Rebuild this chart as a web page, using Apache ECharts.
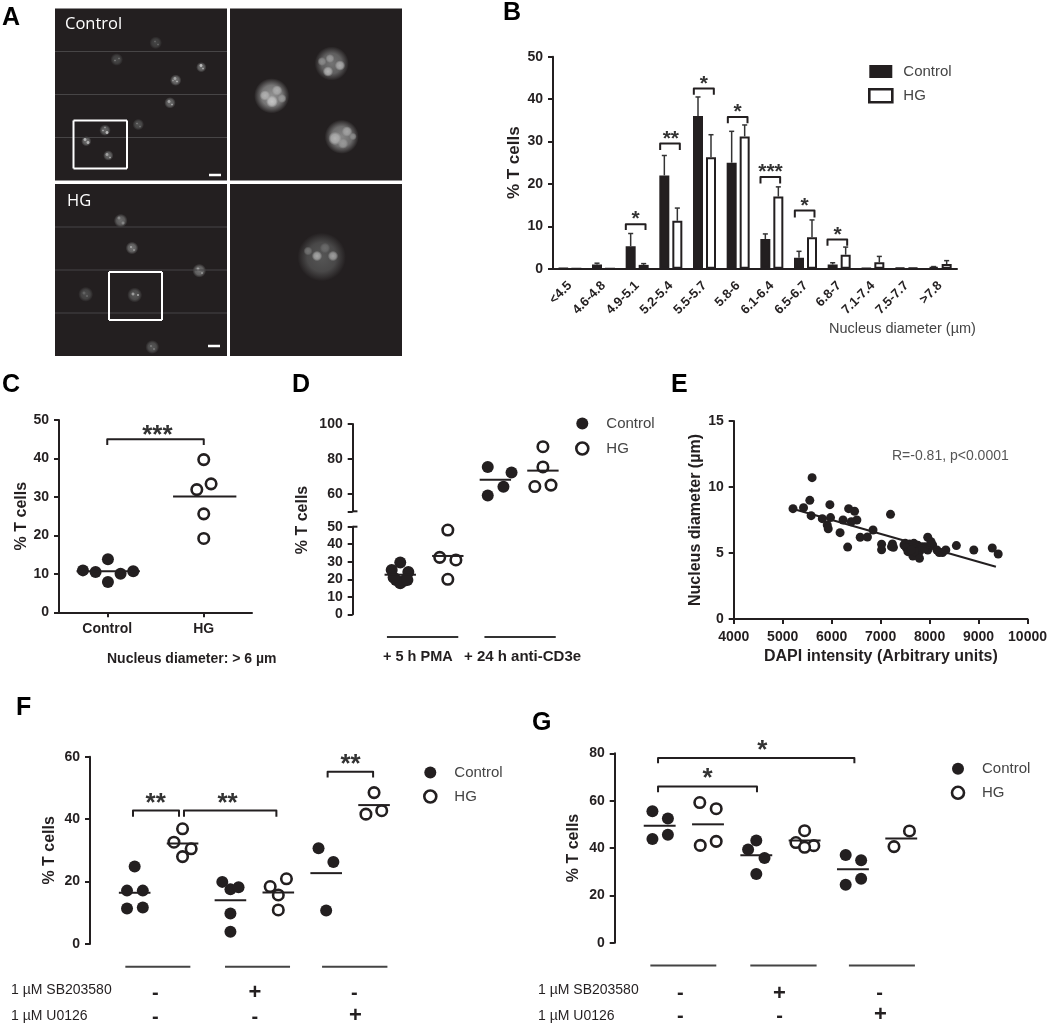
<!DOCTYPE html>
<html><head><meta charset="utf-8">
<style>html,body{margin:0;padding:0;background:#fff}#c{width:1050px;height:1024px}</style>
<script src="https://cdn.jsdelivr.net/npm/echarts@6/dist/echarts.min.js"></script>
</head><body><div id="c"></div>
<script>
const INK='#231f20', FONT='"Liberation Sans", Arial, sans-serif';
// Panel A: [x, y, diameter, brightness]
const aCtrlWide=[[100.7,34.3,11,.18],[61.7,51,11,.2],[146.3,58.7,9,.4],[120.7,71.7,10,.42],[115,94.3,10,.38],[83.3,116,10,.24],[50,121.7,10,.35],[31.3,132.7,9,.4],[53.3,147,9,.38]];
const aCtrlWideSpots=[[100,33,2,.35],[103,36,2,.35],[60,52,2,.45],[64,50,2,.4],[146,57,3,.85],[148,60,2,.7],[120,70,3,.7],[122,73,2,.75],[118,72,2,.6],[114,93,3,.7],[117,96,2,.7],[82,115,2,.45],[85,118,2,.4],[48,122,2,.7],[52,124,3,.85],[50,119,2,.6],[30,131,3,.8],[33,134,3,.8],[52,146,3,.7],[55,149,2,.7]];
const aCtrlZoom=[[101.7,55,31,.42],[41.7,87.3,32,.58],[111.7,128.3,31,.52]];
const aCtrlZoomSpots=[[98,63,7,.75],[110,57,7,.72],[100,50,6,.62],[92,53,6,.55],[42,93,8,.85],[35,87,7,.75],[47,82,7,.72],[52,90,6,.62],[105,130,9,.75],[117,123,7,.68],[113,135,7,.62],[123,128,5,.55]];
const aHgWide=[[65.7,36.7,12,.38],[77,64,11,.42],[144.3,86.7,12,.42],[30.7,110.3,13,.22],[79.7,111,13,.28],[97.3,163,12,.28]];
const aHgWideSpots=[[64,34,3,.55],[68,39,3,.55],[76,63,2,.7],[79,66,2,.6],[143,85,3,.7],[147,89,2,.6],[29,109,3,.35],[32,112,2,.35],[78,110,3,.7],[83,111,2,.7],[96,162,2,.45],[99,165,2,.45]];
const aHgZoom=[[91.7,73,44,.27]];
const aHgZoomSpots=[[87,72,7,.7],[103,72,7,.65],[78,67,6,.42],[95,64,7,.38]];
const aScanLines=[43,86,129], aBoxCtrl=[18.5,112,72,160], aBoxHg=[54,88,107,136];
const aScaleBarCtrl=[154,166.5,166,166.5], aScaleBarHg=[153,162,165,162];

// Panel B
const bCategories=['<4.5','4.6-4.8','4.9-5.1','5.2-5.4','5.5-5.7','5.8-6','6.1-6.4','6.5-6.7','6.8-7','7.1-7.4','7.5-7.7','>7.8'];
const bControl=[0.1,1,5.3,22,36,25,7,2.6,1,0.1,0.2,0.4];
const bHG=[0,0,0.9,11.3,26.3,31.2,17,7.4,3.3,1.5,0.2,1.1];
const bControlErr=[0.1,1.3,8.3,26.7,40.5,32.4,8.2,4.1,1.4,0.1,0.2,0.5];
const bHGErr=[0,0,1.2,14.3,31.6,33.9,19.3,11.5,5.1,2.9,0.2,1.9];
const bBrackets=[[1.663,2.248,10.5,9.1],[2.683,3.267,29.5,28],[3.683,4.277,42.5,41],[4.693,5.277,35.8,34.3],[5.663,6.247,21.6,20.1],[6.683,7.267,13.7,12.1],[7.653,8.238,6.9,5.4]];
const bStars=[[1.95,12.3,1],[3,31.3,2],[3.98,44.3,1],[4.98,37.6,1],[5.96,23.6,3],[6.97,15.4,1],[7.95,8.7,1]];

// Panel C
const cLabels=['Control','HG'];
const cControl=[[0.748,10.9],[0.879,10.5],[1.138,10],[1.269,10.7],[1.007,13.8],[1.007,7.9]];
const cHG=[[2,39.7],[2.076,33.4],[1.928,31.9],[2,25.6],[2,19.2]];
const cMeans=[[1.01,10.7],[2.01,30.1]];
const cBrackets=[[1,2,45,43.5]];
const cStars=[[1.52,47,3]];

// Panel D
const dControlLow=[[1,29.5],[0.82,25.3],[1.17,24.1],[0.91,19.6],[1.08,19.2],[1,17.7],[0.86,21],[1.15,19.6]];
const dHGLow=[[2,48.1],[1.83,32.5],[2.17,31],[2,20]];
const dControlHigh=[[2.84,75.4],[3.34,72.2],[3.17,64],[2.84,59]];
const dHGHigh=[[4,87],[4,75.4],[3.83,64.2],[4.17,65]];
const dMeansLow=[[1,22.6],[2,33.3]];
const dMeansHigh=[[3,68],[4,73.3]];
const dGroupLines=[[0.72,-12.9,2.22,-12.9],[2.77,-12.9,4.27,-12.9]];
const dBreakTick=[[0,50,0.1,50]];

// Panel E
const eIntensity=[5211,5426,5554,5601,5581,5809,5910,5977,5930,5964,6172,6233,6347,6468,6515,6401,6327,6583,6731,6845,7020,7020,7202,7242,7262,7477,7504,7592,7639,7524,7706,7760,7679,7793,7659,7793,7861,7962,8062,7962,8029,7928,8150,8197,8264,8331,8547,8903,9280,9401,7222,7558,7692,7894,7625];
const eDiameter=[8.36,8.43,8.99,10.71,7.83,7.6,7.12,7.68,6.84,8.66,6.54,7.5,8.36,8.16,7.5,7.37,5.45,6.19,6.21,6.74,5.66,5.25,7.93,5.68,5.43,5.61,5.73,5.68,5.53,5.4,5.48,5.58,5.73,5.1,4.77,4.6,5.48,5.23,5.61,6.19,5.86,5.48,5.23,5.03,5.03,5.23,5.56,5.23,5.38,4.92,5.48,5.1,5.1,5.35,5.23];
const eFit=[[5291,8.26,9354,3.96]];

// Panel F
const fControl=[[1,24.8],[0.84,17.1],[1.17,17.1],[0.84,11.4],[1.17,11.7],[2.83,19.9],[3,17.5],[3.17,18.2],[3,9.8],[3,3.9],[4.84,30.7],[5.15,26.3],[5,10.7]];
const fHG=[[2,36.9],[1.82,32.6],[2.18,30.5],[2,28],[4.17,20.9],[3.83,18.4],[4,15.7],[4,10.9],[6,48.5],[6.16,42.7],[5.83,41.6]];
const fMeans=[[1,16.4],[2,32.2],[3,14],[4,16.5],[5,22.7],[6,44.5]];
const fBrackets=[[0.965,1.926,42.8,40.8],[2.03,3.96,42.8,40.8],[5.03,5.98,55.2,53.3]];
const fStars=[[1.44,46.3,2],[2.94,46.3,2],[5.51,58.6,2]];
const fGroupLines=[[0.805,-7.26,2.163,-7.26],[2.887,-7.26,4.245,-7.26],[4.914,-7.26,6.279,-7.26]];
const fSigns=[[1.43,-15.8,0],[3.51,-15.8,1],[5.59,-15.8,0],[1.43,-23.5,0],[3.51,-23.5,0],[5.61,-23.2,1]];

// Panel G
const gControl=[[0.85,55.5],[1.17,52.5],[1.17,45.6],[0.85,43.8],[3,43.2],[2.83,39.4],[3.17,35.8],[3,29],[4.85,37],[5.17,34.8],[5.17,27],[4.85,24.5]];
const gHG=[[1.83,59.2],[2.17,56.6],[2.17,42.8],[1.84,41.1],[4,47.3],[3.82,42.3],[4.19,41],[4,40.3],[6.17,47.2],[5.85,40.6]];
const gMeans=[[1,49.4],[2,50],[3,36.9],[4,43.2],[5,31],[6,44]];
const gBrackets=[[0.966,3.014,66,63.5],[0.966,5.03,78,75.8]];
const gStars=[[1.993,70.8,1],[3.124,82.8,1]];
const gGroupLines=[[0.807,-9.6,2.172,-9.6],[2.876,-9.6,4.248,-9.6],[4.917,-9.6,6.283,-9.6]];
const gSigns=[[1.43,-21.5,0],[3.48,-21.5,1],[5.55,-21.5,0],[1.43,-31.2,0],[3.48,-31.2,0],[5.57,-30.5,1]];

const legendNames=['Control','HG'];

// ---- helpers ----
const series=[];
function refs(x,y){return {xAxisIndex:x,yAxisIndex:y===undefined?x:y,silent:true,animation:false,z:5};}
function segs(ax,data,color,width,ay,name){
  series.push({type:'custom',name:name||'segments',...refs(ax,ay),data,encode:{x:[0,2],y:[1,3]},
    renderItem(p,api){const a=api.coord([api.value(0),api.value(1)]),b=api.coord([api.value(2),api.value(3)]);
      return {type:'line',shape:{x1:a[0],y1:a[1],x2:b[0],y2:b[1]},style:{stroke:color,lineWidth:width}};}});
}
function means(ax,data,half,w,ay){segs(ax,data.map(d=>[d[0]-half,d[1],d[0]+half,d[1]]),INK,w||2,ay,'mean');}
function brackets(ax,data,ay){
  series.push({type:'custom',name:'bracket',...refs(ax,ay),data,encode:{x:[0,1],y:[2,3]},
    renderItem(p,api){const a=api.coord([api.value(0),api.value(2)]),b=api.coord([api.value(1),api.value(2)]),
      c=api.coord([api.value(0),api.value(3)]),d=api.coord([api.value(1),api.value(3)]);
      return {type:'polyline',shape:{points:[c,a,b,d]},style:{stroke:INK,lineWidth:2,fill:null,lineJoin:'round'}};}});
}
function stars(ax,data,fs,ay){
  series.push({type:'custom',name:'stars',...refs(ax,ay),data,encode:{x:0,y:1},
    renderItem(p,api){const a=api.coord([api.value(0),api.value(1)]);
      return {type:'text',x:a[0],y:a[1]+fs*0.15,style:{text:'*'.repeat(api.value(2)),fill:'#333',fontFamily:FONT,fontWeight:'bold',fontSize:fs,align:'center',verticalAlign:'middle'}};}});
}
function signs(ax,data){
  series.push({type:'custom',name:'signs',...refs(ax),data,encode:{x:0,y:1},
    renderItem(p,api){const a=api.coord([api.value(0),api.value(1)]);const plus=api.value(2)===1;
      return {type:'text',x:a[0],y:a[1],style:{text:plus?'+':'-',fill:INK,fontFamily:FONT,fontWeight:'bold',fontSize:plus?22:20,align:'center',verticalAlign:'middle'}};}});
}
function dots(ax,name,data,hollow,ay,size){
  series.push({type:'scatter',name,xAxisIndex:ax,yAxisIndex:ay===undefined?ax:ay,data,clip:false,animation:false,silent:true,z:3,
    symbol:'circle',symbolSize:size||(hollow?10.5:12),
    itemStyle:hollow?{color:'#fff',borderColor:INK,borderWidth:2.6,opacity:1}:{color:INK,opacity:1}});
}
function glow(ax,data,scale){
  series.push({type:'scatter',name:'nucleus',xAxisIndex:ax,yAxisIndex:ax,data,clip:true,animation:false,silent:true,z:2,
    symbol:'circle',symbolSize:v=>v[2]*scale,
    itemStyle:{opacity:1,
      color:p=>{const b=p.value[3],c=Math.round(35+190*b);
        return {type:'radial',x:.5,y:.5,r:.5,colorStops:[{offset:0,color:`rgba(${c},${c},${c},1)`},{offset:.6,color:`rgba(${c},${c},${c},.75)`},{offset:1,color:`rgba(${c},${c},${c},0)`}]};}}});
}

// ---- grids and axes ----
const grids=[], xAxes=[], yAxes=[];
const S=172;
function addImage(left,top){
  const i=grids.length;
  grids.push({left,top,width:S,height:S,show:true,backgroundColor:INK,borderWidth:0});
  xAxes.push({gridIndex:i,type:'value',min:0,max:S,show:false});
  yAxes.push({gridIndex:i,type:'value',min:0,max:S,inverse:true,show:false});
  return i;
}
const axisLine={show:true,onZero:false,lineStyle:{color:INK,width:2}};
const axisTick={show:true,length:5,lineStyle:{color:INK,width:2}};
const axisLabel={color:INK,fontFamily:FONT,fontWeight:'bold',fontSize:14,margin:10};
function yAxis(i,min,max,interval,extra){
  return Object.assign({gridIndex:i,type:'value',min,max,interval,axisLine,axisTick,axisLabel,splitLine:{show:false}},extra||{});
}
function yName(name,gap,size){
  return {name,nameLocation:'middle',nameGap:gap,nameTextStyle:{color:INK,fontFamily:FONT,fontWeight:'bold',fontSize:size||15}};
}
function hiddenX(i,min,max){return {gridIndex:i,type:'value',min,max,show:false};}

// A
const A1=addImage(55,8.5), A2=addImage(230,8.5), A3=addImage(55,184), A4=addImage(230,184);
[A1,A3].forEach(i=>segs(i,aScanLines.map(y=>[0,y,S,y]),'#474546',1,undefined,'scan'));
glow(A1,aCtrlWide,1.15); glow(A1,aCtrlWideSpots,1.3);
glow(A2,aCtrlZoom,1.1); glow(A2,aCtrlZoomSpots,1.5);
glow(A3,aHgWide,1.15); glow(A3,aHgWideSpots,1.3);
glow(A4,aHgZoom,1.1); glow(A4,aHgZoomSpots,1.5);
const box=b=>[[b[0],b[1],b[2],b[1]],[b[2],b[1],b[2],b[3]],[b[2],b[3],b[0],b[3]],[b[0],b[3],b[0],b[1]]];
segs(A1,box(aBoxCtrl),'#fff',2); segs(A3,box(aBoxHg),'#fff',2);
segs(A1,[aScaleBarCtrl],'#fff',2.5); segs(A3,[aScaleBarHg],'#fff',2.5);

// B
const B=grids.length;
grids.push({left:553,top:56.7,width:404,height:212});
xAxes.push({gridIndex:B,type:'category',data:bCategories,axisLine:{...axisLine},axisTick:{show:false},
  axisLabel:{...axisLabel,fontSize:13,rotate:45,margin:15,interval:0}});
yAxes.push(yAxis(B,0,50,10,yName('% T cells',30,17)));
series.push({type:'bar',name:'Control',xAxisIndex:B,yAxisIndex:B,data:bControl,barWidth:10,barGap:'30%',animation:false,silent:true,
  itemStyle:{color:INK,borderColor:INK,borderWidth:2}});
series.push({type:'bar',name:'HG',xAxisIndex:B,yAxisIndex:B,data:bHG,barWidth:10,animation:false,silent:true,
  itemStyle:{color:'#fff',borderColor:INK,borderWidth:2}});

// C
const C=grids.length;
grids.push({left:59,top:420,width:193,height:192.3});
xAxes.push({gridIndex:C,type:'value',min:0.5,max:2.5,axisLine:{...axisLine},splitLine:{show:false},
  axisTick:{...axisTick,customValues:[1,2]},
  axisLabel:{...axisLabel,customValues:[1,2],margin:10,formatter:v=>cLabels[Math.round(v)-1]}});
yAxes.push(yAxis(C,0,50,10,yName('% T cells',29,16)));
dots(C,'Control',cControl,false); dots(C,'HG',cHG,true); means(C,cMeans,0.328); brackets(C,cBrackets); stars(C,cStars,26);

// D
const D1=grids.length;
grids.push({left:352.7,top:424,width:214,height:87.3});
xAxes.push(hiddenX(D1,0,4.5));
yAxes.push(yAxis(D1,50,100,10,{axisTick:{...axisTick,customValues:[50,60,80,100]},axisLabel:{...axisLabel,customValues:[60,80,100]}}));
const D2=grids.length;
grids.push({left:352.7,top:526.7,width:214,height:87.6});
xAxes.push(hiddenX(D2,0,4.5));
yAxes.push(yAxis(D2,0,50,10));
segs(D1,dBreakTick,INK,2); segs(D2,dBreakTick,INK,2);
dots(D2,'Control',dControlLow,false); dots(D2,'HG',dHGLow,true);
dots(D1,'Control',dControlHigh,false); dots(D1,'HG',dHGHigh,true);
means(D2,dMeansLow,0.33); means(D1,dMeansHigh,0.33);
segs(D2,dGroupLines,'#333',2);

// E
const E=grids.length;
grids.push({left:733.7,top:421,width:297.3,height:198});
xAxes.push({gridIndex:E,type:'value',min:4000,max:10000,interval:1000,axisLine:{...axisLine},axisTick:{...axisTick},splitLine:{show:false},
  axisLabel:{...axisLabel,fontSize:14,margin:11,formatter:v=>String(v)}});
yAxes.push(yAxis(E,0,15,5,yName('Nucleus diameter (µm)',30,16)));
dots(E,'Control',eIntensity.map((x,i)=>[x,eDiameter[i]]),false,undefined,9);
segs(E,eFit,INK,2);

// F
const F=grids.length;
grids.push({left:90,top:756.7,width:308,height:187.3});
xAxes.push(hiddenX(F,0.067,6.5));
yAxes.push(yAxis(F,0,60,20,yName('% T cells',32,16)));
dots(F,'Control',fControl,false); dots(F,'HG',fHG,true); means(F,fMeans,0.33);
brackets(F,fBrackets); stars(F,fStars,26); segs(F,fGroupLines,'#444',2); signs(F,fSigns);

// G
const G=grids.length;
grids.push({left:614.7,top:753.3,width:310.7,height:189.4});
xAxes.push(hiddenX(G,0.069,6.5));
yAxes.push(yAxis(G,0,80,20,yName('% T cells',33,16)));
dots(G,'Control',gControl,false); dots(G,'HG',gHG,true); means(G,gMeans,0.33);
brackets(G,gBrackets); stars(G,gStars,26); segs(G,gGroupLines,'#444',2); signs(G,gSigns);

// extra hidden x-axis on the B grid for error bars and brackets
const B2=xAxes.length;
xAxes.push(hiddenX(B,-0.5,11.5));
const HALF=0.193;
function errs(vals,errVals,off){
  const d=vals.map((v,i)=>[i+off,v,i+off,errVals[i]]).filter(r=>r[3]>0.25);
  segs(B2,d,'#333',1.5,B,'error');
  segs(B2,d.map(r=>[r[0]-0.075,r[3],r[0]+0.075,r[3]]),'#333',1.5,B,'errorCap');
}
errs(bControl,bControlErr,-HALF); errs(bHG,bHGErr,HALF);
brackets(B2,bBrackets,B); stars(B2,bStars,21,B);

// ---- legends ----
const dotLegend=(left,top,gap)=>({left,top,orient:'vertical',itemWidth:38,itemHeight:12,itemGap:gap,selectedMode:false,
  textStyle:{color:'#444',fontFamily:FONT,fontSize:15,padding:0},
  data:[{name:legendNames[0],icon:'circle',itemStyle:{color:INK,borderWidth:0}},
        {name:legendNames[1],icon:'circle',itemStyle:{color:'#fff',borderColor:INK,borderWidth:2.6}}]});
const legends=[
 {left:863,top:59,orient:'vertical',itemWidth:23,itemHeight:13,itemGap:9,selectedMode:false,
  textStyle:{color:'#444',fontFamily:FONT,fontSize:15,padding:[0,0,0,6]},
  data:[{name:legendNames[0],icon:'rect',itemStyle:{color:INK,borderColor:INK,borderWidth:0}},
        {name:legendNames[1],icon:'rect',itemStyle:{color:'#fff',borderColor:INK,borderWidth:2.6}}]},
 dotLegend(570,411,10), dotLegend(418,760,9), dotLegend(945.7,756.3,9)
];

// ---- free text ----
function T(text,x,y,size,opt){opt=opt||{};
  return {type:'text',x,y,rotation:opt.rot||0,z:10,silent:true,style:{text,fill:opt.fill||INK,fontFamily:opt.family||FONT,fontSize:size,fontWeight:opt.weight||'normal',align:opt.align||'left',verticalAlign:'middle'}};}
const graphicTexts=[
 T('A',2,18,25,{weight:'bold',fill:'#000'}),T('B',503,13,25,{weight:'bold',fill:'#000'}),
 T('C',2,385,25,{weight:'bold',fill:'#000'}),T('D',292,385,25,{weight:'bold',fill:'#000'}),
 T('E',671,385,25,{weight:'bold',fill:'#000'}),T('F',16,708,25,{weight:'bold',fill:'#000'}),T('G',532,723,25,{weight:'bold',fill:'#000'}),
 T('Control',65,24.5,16.5,{fill:'#fff',family:'"Open Sans"'}),T('HG',67,201.5,16.5,{fill:'#fff',family:'"Open Sans"'}),
 T('Nucleus diameter (µm)',829,329,14.5,{fill:'#444'}),
 T('Nucleus diameter: > 6 µm',107,659,14,{weight:'bold'}),
 T('% T cells',303,520,16,{weight:'bold',rot:Math.PI/2,align:'center'}),
 T('+ 5 h PMA',383,657,14.5,{weight:'bold'}),T('+ 24 h anti-CD3e',464,657,15,{weight:'bold'}),
 T('R=-0.81, p<0.0001',892,456,14,{fill:'#555'}),
 T('DAPI intensity (Arbitrary units)',764,657,16,{weight:'bold'}),
 T('1 µM SB203580',11,990,14),T('1 µM U0126',11,1016,14),
 T('1 µM SB203580',538,990,14),T('1 µM U0126',538,1016,14)
];

const chart=echarts.init(document.getElementById('c'),null,{renderer:'canvas'});
chart.setOption({animation:false,backgroundColor:'#fff',grid:grids,xAxis:xAxes,yAxis:yAxes,legend:legends,series,graphic:{elements:graphicTexts}});
</script></body></html>
